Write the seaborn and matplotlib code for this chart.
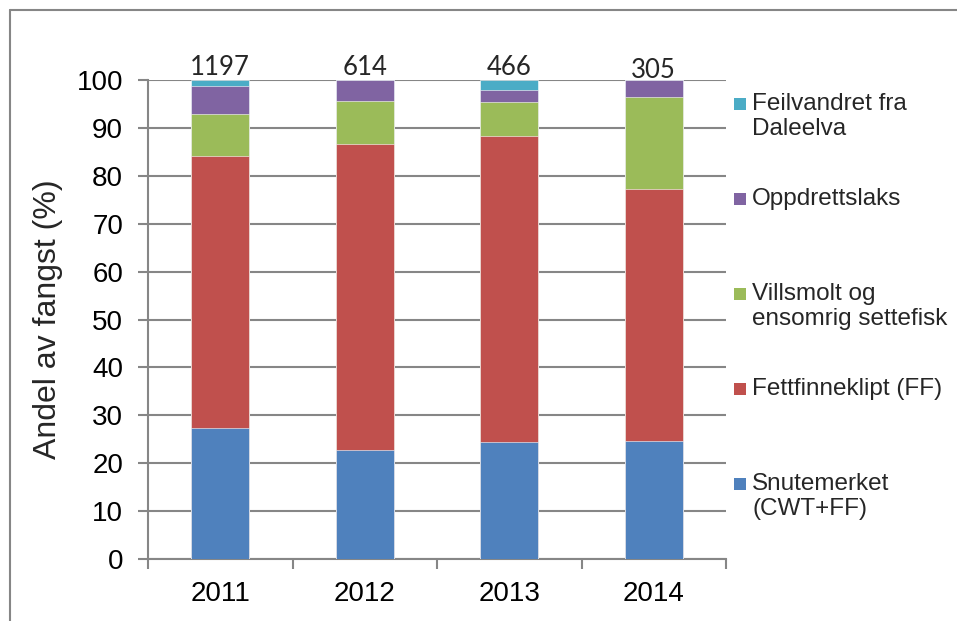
import numpy as np
import pandas as pd
import matplotlib.pyplot as plt
import seaborn as sns
from matplotlib.lines import Line2D
from matplotlib.patches import Rectangle

# data (% of catch, per year)
years = ["2011", "2012", "2013", "2014"]
totals = [1197, 614, 466, 305]
snutemerket = [27.3, 22.8, 24.4, 24.6]
fettfinneklipt = [56.9, 63.9, 63.9, 52.7]
villsmolt = [8.6, 8.9, 7.2, 19.1]
oppdrett = [6.0, 4.4, 2.5, 3.6]
feilvandret = [1.2, 0.0, 2.0, 0.0]

series_names = ["Snutemerket\n(CWT+FF)", "Fettfinneklipt (FF)",
                "Villsmolt og\nensomrig settefisk", "Oppdrettslaks",
                "Feilvandret fra\nDaleelva"]
colors = ["#4F81BD", "#C0504D", "#9BBB59", "#8064A2", "#4BACC6"]

df = pd.DataFrame({"year": years, "s0": snutemerket, "s1": fettfinneklipt,
                   "s2": villsmolt, "s3": oppdrett, "s4": feilvandret})
cum = df[["s0", "s1", "s2", "s3", "s4"]].cumsum(axis=1)
cum["year"] = df["year"]

sns.set_theme(style="white")
plt.rcParams["font.family"] = ["Liberation Sans", "DejaVu Sans"]
grey = "#868686"

fig = plt.figure(figsize=(9.57, 6.21), dpi=100)
ax = fig.add_axes([148 / 957, 62 / 621, 578 / 957, 479 / 621])

# stacked bars: draw cumulative heights from the top layer down
for i in range(4, -1, -1):
    sns.barplot(data=cum, x="year", y=f"s{i}", color=colors[i], width=0.4,
                saturation=1, ax=ax, edgecolor="white", linewidth=0.4, zorder=3)

ax.set_ylim(0, 100)
ax.set_xlim(-0.5, 3.5)
ax.set_yticks(np.arange(0, 101, 10))
ax.yaxis.grid(True, color=grey, linewidth=1.5, zorder=0)
ax.set_axisbelow(True)
ax.set_xlabel("")
ax.set_ylabel("Andel av fangst (%)", fontsize=23, labelpad=10)

for s in ["top", "right"]:
    ax.spines[s].set_visible(False)
for s in ["left", "bottom"]:
    ax.spines[s].set_color(grey)
    ax.spines[s].set_linewidth(1.5)

ax.tick_params(axis="y", which="major", direction="out", length=7, width=1.5,
               color=grey, labelsize=20, left=True, pad=11, labelcolor="black")
ax.tick_params(axis="x", which="major", length=0, labelsize=20, pad=16,
               labelcolor="black")
ax.set_xticks(np.arange(-0.5, 4, 1), minor=True)
ax.tick_params(axis="x", which="minor", direction="out", length=7, width=1.5,
               color=grey, bottom=True)

# total counts above the bars
label_offsets = [0, 0, 0, -2.5]
for i, n in enumerate(totals):
    ax.annotate(str(n), (i, 100), xytext=(0, label_offsets[i]),
                textcoords="offset points", ha="center", va="bottom",
                fontsize=18.5, family="Lato", annotation_clip=False)

# legend, top entry first as in the reference
W, H = 957, 621
for k, i in enumerate(range(4, -1, -1)):
    yc = 104 + k * 95
    fig.patches.append(Rectangle((734 / W, 1 - (yc + 6) / H), 12 / W, 12 / H,
                                 transform=fig.transFigure, facecolor=colors[i],
                                 edgecolor="none"))
    fig.text(752 / W, 1 - (yc - 11) / H, series_names[i], fontsize=17.5,
             va="top", ha="left", linespacing=1.2)

# outer frame (only left and top visible in the reference)
fig.add_artist(Line2D([10 / W, 10 / W], [0, 1 - 10 / H], color=grey, lw=1.5,
                      transform=fig.transFigure))
fig.add_artist(Line2D([10 / W, 1], [1 - 10 / H, 1 - 10 / H], color=grey, lw=1.5,
                      transform=fig.transFigure))

fig.savefig("out.png", dpi=100)
